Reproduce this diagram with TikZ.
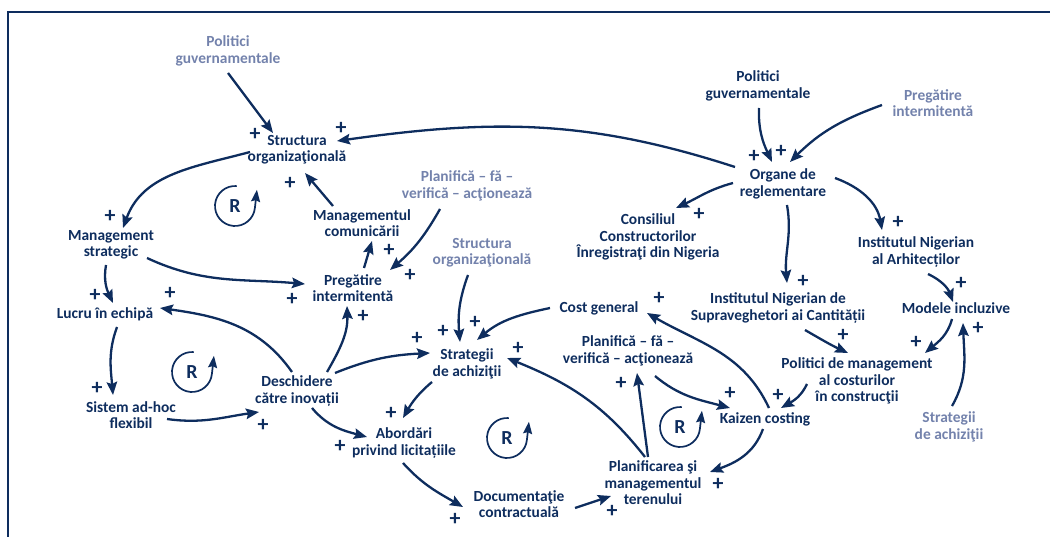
\documentclass[tikz,border=0pt]{standalone}
\usepackage{fontspec}
\setmainfont{Carlito}
\usetikzlibrary{arrows.meta,calc}
\definecolor{navy}{RGB}{14,45,94}
\definecolor{ext}{RGB}{115,130,172}
\begin{document}
\begin{tikzpicture}[x=1bp,y=1bp,
  var/.style={align=center,inner sep=0pt,font=\bfseries\fontsize{15.5}{16.5}\selectfont,text=navy},
  extvar/.style={var,text=ext},
  link/.style={draw=navy,line width=2.3bp,-{Stealth[length=13bp,width=10.5bp,inset=2bp]}},
  pol/.style={inner sep=0pt,font=\bfseries\fontsize{22}{22}\selectfont,text=navy},
  loopmark/.style={draw=navy,line width=1.7bp,-{Stealth[length=12bp,width=9bp,inset=1.5bp]}},
  looplabel/.style={inner sep=0pt,font=\bfseries\fontsize{20}{20}\selectfont,text=navy}]
\useasboundingbox (0,0) rectangle (1050,-537);
% frame
\draw[navy,line width=1.6bp] (8,-537) -- (8,-12) -- (1050,-12);

% variables
\node[extvar] (pgA) at (228,-51) {Politici\\guvernamentale};
\node[var] (so) at (297,-150) {Structura\\organizaţională};
\node[var] (ms) at (111,-245) {Management\\strategic};
\node[var] (le) at (105,-314) {Lucru în echipă};
\node[var] (sah) at (131,-415) {Sistem ad-hoc\\flexibil};
\node[var] (di) at (297,-391) {Deschidere\\către inovații};
\node[var] (mc) at (362,-223) {Managementul\\comunicării};
\node[var] (pi) at (353,-288) {Pregătire\\intermitentă};
\node[extvar] (pfA) at (467,-186) {Planifică – fă –\\verifică – acţionează};
\node[extvar] (soB) at (482,-253) {Structura\\organizaţională};
\node[var] (cc) at (648,-237) {Consiliul\\Constructorilor\\Înregistraţi din Nigeria};
\node[var] (org) at (783,-184) {Organe de\\reglementare};
\node[var] (pgB) at (758,-86) {Politici\\guvernamentale};
\node[extvar] (piB) at (933,-103) {Pregătire\\intermitentă};
\node[var] (ia) at (916,-252) {Institutul Nigerian\\al Arhitecților};
\node[var] (mi) at (956,-308) {Modele incluzive};
\node[var] (isq) at (778,-308) {Institutul Nigerian de\\Supraveghetori ai Cantității};
\node[var] (pm) at (857,-381) {Politici de management\\al costurilor\\în construcţii};
\node[extvar] (saB) at (949,-427) {Strategii\\de achiziţii};
\node[var] (kc) at (765,-419) {Kaizen costing};
\node[var] (cg) at (599,-308) {Cost general};
\node[var] (pf) at (628,-351) {Planifică – fă –\\verifică – acţionează};
\node[var] (pt) at (653,-483) {Planificarea şi\\managementul\\terenului};
\node[var] (sa) at (467,-364) {Strategii\\de achiziţii};
\node[var] (ab) at (404,-443) {Abordări\\privind licitațiile};
\node[var] (dc) at (519,-504) {Documentaţie\\contractuală};

% causal links
\draw[link] ($(pgA)+(0,-22)$) -- ($(so)+(-24,17)$);
\draw[link] ($(org)+(-48,17)$) to[out=162,in=8] ($(so)+(40,9)$);
\draw[link] ($(so)+(-47,-2)$) to[out=195,in=70] ($(ms)+(12,17)$);
\draw[link] ($(mc)+(-29,17)$) -- ($(so)+(8,-23)$);
\draw[link] ($(pi)+(11,20)$) -- ($(mc)+(10,-18)$);
\draw[link] ($(pfA)+(-27,-23)$) to[bend left=10] ($(pi)+(37,18)$);
\draw[link] ($(ms)+(36,-13)$) to[out=-25,in=175] ($(pi)+(-48,4)$);
\draw[link] ($(ms)+(-5,-20)$) to[out=-100,in=115] ($(le)+(8,11)$);
\draw[link] ($(di)+(-5,19)$) to[out=125,in=-8] ($(le)+(55,6)$);
\draw[link] ($(le)+(12,-13)$) to[out=-110,in=95] ($(sah)+(-18,20)$);
\draw[link] ($(sah)+(36,-4)$) to[out=-8,in=188] ($(di)+(-38,-21)$);
\draw[link] ($(di)+(30,19)$) to[out=60,in=-88] ($(pi)+(-6,-18)$);
\draw[link] ($(di)+(38,18)$) to[out=22,in=183] ($(sa)+(-37,11)$);
\draw[link] ($(di)+(15,-17)$) to[out=-50,in=165] ($(ab)+(-37,6)$);
\draw[link] ($(soB)+(-14,-22)$) to[out=-110,in=95] ($(sa)+(-7,22)$);
\draw[link] ($(cg)+(-49,0)$) to[out=192,in=40] ($(sa)+(10,24)$);
\draw[link] ($(pt)+(-8,26)$) to[out=128,in=-22] ($(sa)+(40,6)$);
\draw[link] ($(sa)+(-35,-18)$) to[out=-140,in=60] ($(ab)+(-1,25)$);
\draw[link] ($(ab)+(-1,-20)$) to[out=-48,in=150] ($(dc)+(-56,-3)$);
\draw[link] ($(dc)+(56,-4)$) -- ($(pt)+(-42,-13)$);
\draw[link] ($(pt)+(-5,26)$) -- ($(pf)+(9,-22)$);
\draw[link] ($(pf)+(27,-25)$) to[out=-40,in=165] ($(kc)+(-35,11)$);
\draw[link] ($(kc)+(4,11)$) to[out=115,in=-30] ($(cg)+(48,-5)$);
\draw[link] ($(kc)+(-2,-10)$) to[out=-110,in=20] ($(pt)+(57,11)$);
\draw[link] ($(pm)+(-50,-3)$) to[out=-115,in=30] ($(kc)+(16,11)$);
\draw[link] ($(isq)+(27,-22)$) to[out=-30,in=155] ($(pm)+(-9,28)$);
\draw[link] ($(mi)+(-4,-11)$) to[out=-105,in=40] ($(pm)+(68,28)$);
\draw[link] ($(saB)+(3,21)$) to[out=60,in=-88] ($(mi)+(7,-15)$);
\draw[link] ($(ia)+(12,-22)$) to[out=-25,in=110] ($(mi)+(-3,6)$);
\draw[link] ($(org)+(52,6)$) to[out=-20,in=100] ($(ia)+(-34,22)$);
\draw[link] ($(org)+(4,-21)$) to[out=-80,in=95] ($(isq)+(9,25)$);
\draw[link] ($(org)+(-50,1)$) to[out=195,in=25] ($(cc)+(28,29)$);
\draw[link] ($(pgB)+(1,-22)$) to[out=-92,in=115] ($(org)+(-11,22)$);
\draw[link] ($(piB)+(-51,-2)$) to[out=200,in=45] ($(org)+(7,22)$);

% polarity signs
\foreach \px/\py [count=\i] in {255/134,341/128,110/216,290/183,389/250,410/275,292/299,95/295,170/293,97/388,263/425,363/316,417/338,340/446,443/331,475/322,518/348,391/413,455/519,612/511,621/383,730/393,659/298,718/484,778/395,843/335,916/342,978/328,961/283,898/222,803/281,699/214,754/156,781/151}
  \node[pol] (plus\i) at (\px,-\py) {+};

% reinforcing loop markers
\foreach \cx/\cy [count=\i] in {235/206,192/372,507/438,680/427} {
  \node[looplabel] (loop\i) at (\cx,-\cy) {R};
  \draw[loopmark] ($(loop\i)+(85:20)$) arc[start angle=85,end angle=355,radius=20] -- ++(2,18);
}
\end{tikzpicture}
\end{document}
